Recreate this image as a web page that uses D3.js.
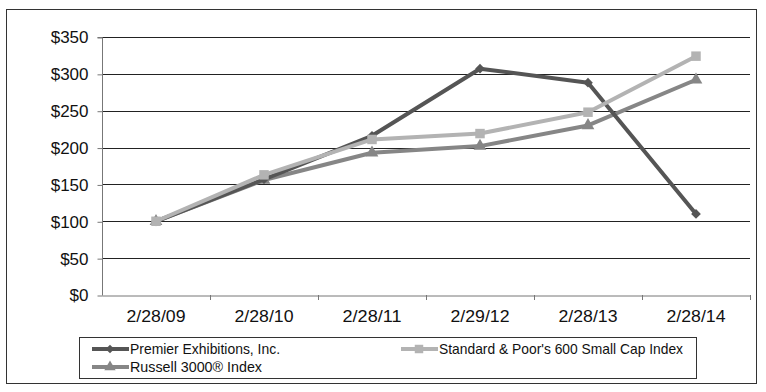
<!DOCTYPE html>
<html>
<head>
<meta charset="utf-8">
<script src="https://cdnjs.cloudflare.com/ajax/libs/d3/7.8.5/d3.min.js"></script>
<style>
  html, body { margin: 0; padding: 0; background: #fff; }
  svg { display: block; font-family: "Liberation Sans", Arial, sans-serif; }
</style>
</head>
<body>
<div class="container"></div>
<script>
const dates = ['2/28/09', '2/28/10', '2/28/11', '2/29/12', '2/28/13', '2/28/14']
const premier = [100, 157, 216, 307, 288, 110]
const sp600 = [100, 163, 211, 219, 248, 324]
const russell = [100, 156, 193, 202, 230, 292]
const yTicks = [0, 50, 100, 150, 200, 250, 300, 350]

const series = [
  { name: 'Premier Exhibitions, Inc.', values: premier, color: '#555555', symbol: d3.symbolDiamond2, size: 60 },
  { name: "Standard & Poor's 600 Small Cap Index", values: sp600, color: '#b3b3b3', symbol: d3.symbolSquare, size: 90 },
  { name: 'Russell 3000\u00AE  Index', values: russell, color: '#868686', symbol: d3.symbolTriangle, size: 70 },
]
// drawing order, last on top
const drawOrder = [2, 0, 1]

const W = 766
const H = 392
const MARGIN = { LEFT: 102, RIGHT: 16, TOP: 37, BOTTOM: 97 }

const svg = d3.select('.container')
  .append('svg')
  .attr('width', W)
  .attr('height', H)

// outer frame
svg.append('rect')
  .attr('x', 6.5).attr('y', 9.5)
  .attr('width', 750).attr('height', 374)
  .attr('fill', 'none')
  .attr('stroke', '#333')

const x = d3.scaleBand()
  .domain(dates)
  .range([MARGIN.LEFT, W - MARGIN.RIGHT])

const y = d3.scaleLinear()
  .domain([0, 350])
  .range([H - MARGIN.BOTTOM, MARGIN.TOP])

// gridlines
svg.append('g')
  .selectAll('line')
  .data(yTicks.slice(1))
  .enter()
  .append('line')
    .attr('x1', MARGIN.LEFT).attr('x2', W - MARGIN.RIGHT)
    .attr('y1', d => Math.round(y(d)) + 0.5).attr('y2', d => Math.round(y(d)) + 0.5)
    .attr('stroke', '#222')
    .attr('stroke-width', 1)

// y axis
const yAxis = svg.append('g')
  .attr('transform', `translate(${MARGIN.LEFT + 0.5}, 0.5)`)
  .call(d3.axisLeft(y).tickValues(yTicks).tickSize(5).tickPadding(9).tickFormat(d => '$' + d))
yAxis.select('.domain').attr('stroke', '#777').attr('d', `M-5,${y(350)}H0V${y(0)}`)
yAxis.selectAll('.tick line').attr('stroke', '#777')
yAxis.selectAll('text').attr('font-size', '17px').attr('fill', '#111')

// x axis
const xAxis = svg.append('g')
  .attr('transform', `translate(0, ${Math.round(y(0)) + 0.5})`)
  .call(d3.axisBottom(x).tickSize(0).tickPadding(14))
xAxis.select('.domain').attr('stroke', '#777')
xAxis.selectAll('text').attr('font-size', '17px').attr('fill', '#111')
  .attr('textLength', 59).attr('lengthAdjust', 'spacingAndGlyphs')

// band separators below axis
svg.append('g')
  .selectAll('line')
  .data(dates.slice(1).concat(['end']))
  .enter()
  .append('line')
    .attr('x1', d => Math.round(d === 'end' ? x.range()[1] : x(d)) + 0.5)
    .attr('x2', d => Math.round(d === 'end' ? x.range()[1] : x(d)) + 0.5)
    .attr('y1', y(0)).attr('y2', y(0) + 5)
    .attr('stroke', '#777')

const cx = d => x(d) + x.bandwidth() / 2

const line = d3.line()
  .x((d, i) => cx(dates[i]))
  .y(d => y(d))

drawOrder.map(i => series[i]).forEach(s => {
  const g = svg.append('g')
  g.append('path')
    .datum(s.values)
    .attr('d', line)
    .attr('fill', 'none')
    .attr('stroke', s.color)
    .attr('stroke-width', 4)
    .attr('stroke-linejoin', 'round')
  g.selectAll('path.pt')
    .data(s.values)
    .enter()
    .append('path')
      .attr('class', 'pt')
      .attr('d', d3.symbol(s.symbol, s.size))
      .attr('transform', (d, i) => `translate(${cx(dates[i])}, ${y(d)})`)
      .attr('fill', s.color)
})

// legend
const legend = svg.append('g')
legend.append('rect')
  .attr('x', 79.5).attr('y', 337.5)
  .attr('width', 617).attr('height', 41)
  .attr('fill', 'none')
  .attr('stroke', '#333')

const legendPos = [[92, 349, 150], [401, 349, 244], [92, 367, 132]]
series.forEach((s, i) => {
  const [lx, ly, tw] = legendPos[i]
  const item = legend.append('g').attr('transform', `translate(${lx}, ${ly})`)
  item.append('line')
    .attr('x1', 0).attr('x2', 37)
    .attr('y1', 0).attr('y2', 0)
    .attr('stroke', s.color)
    .attr('stroke-width', 4)
  item.append('path')
    .attr('d', d3.symbol(s.symbol, s.size * 0.8))
    .attr('transform', 'translate(18, 0)')
    .attr('fill', s.color)
  item.append('text')
    .attr('x', 38)
    .attr('y', 0)
    .attr('dy', '0.35em')
    .attr('font-size', '15px')
    .attr('fill', '#111')
    .attr('textLength', tw)
    .attr('lengthAdjust', 'spacingAndGlyphs')
    .text(s.name)
})
</script>
</body>
</html>
